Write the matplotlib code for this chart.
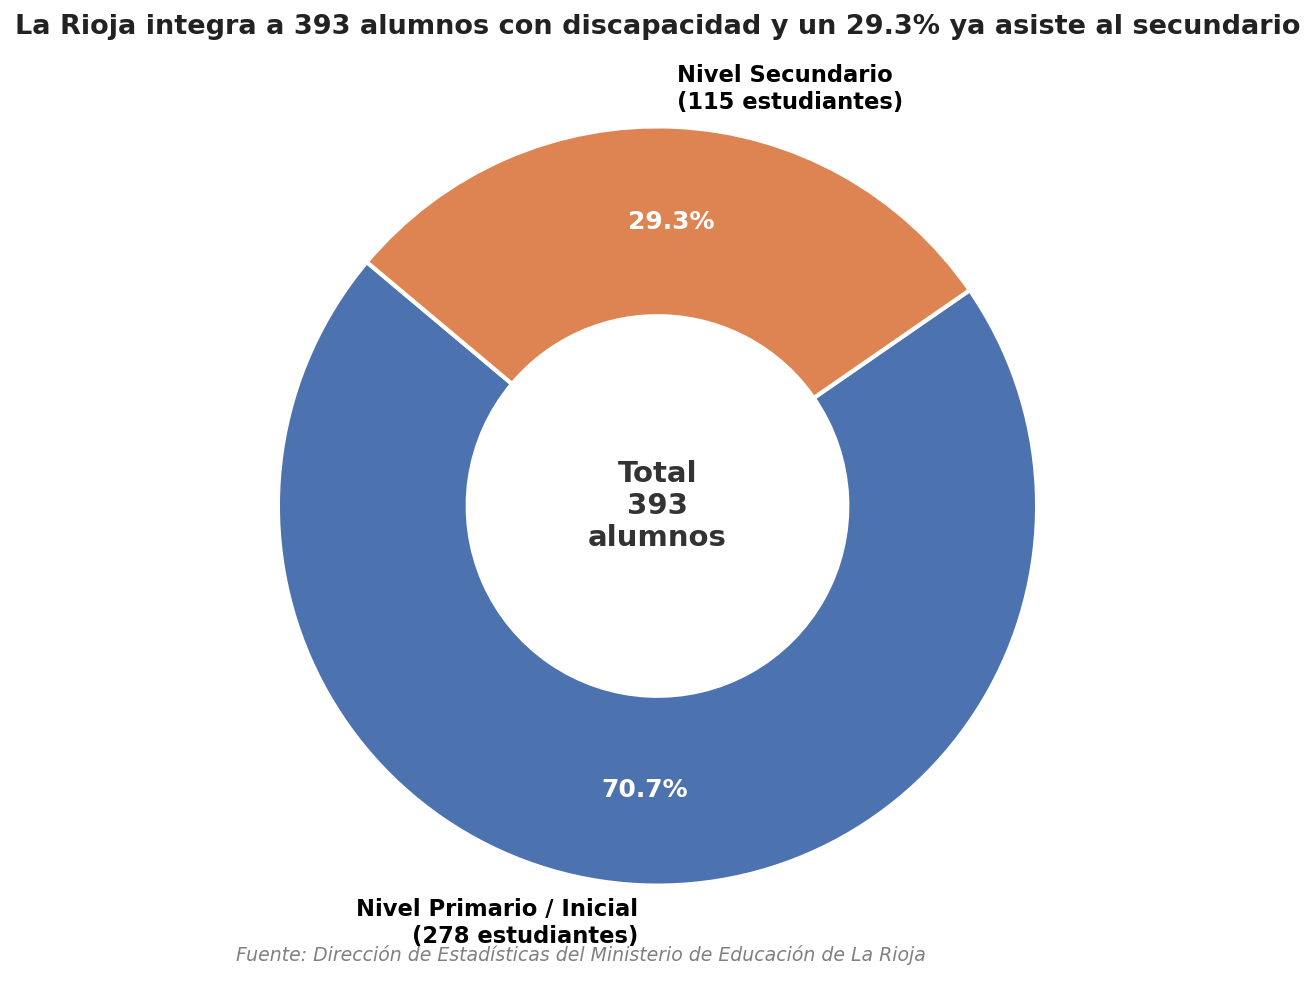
import matplotlib.pyplot as plt

# datos
niveles = ["Nivel Primario / Inicial", "Nivel Secundario"]
alumnos = [278, 115]
colores = ["#4c72b0", "#dd8452"]
total = sum(alumnos)

etiquetas = [f"{n}\n({v} estudiantes)" for n, v in zip(niveles, alumnos)]

fig = plt.figure(figsize=(13.15, 9.81), dpi=100)
ax = fig.add_axes([0, 0.5 / 981, 1, 949 / 981])

wedges, texts, autotexts = ax.pie(
    alumnos,
    labels=etiquetas,
    colors=colores,
    startangle=140,
    autopct="%1.1f%%",
    pctdistance=0.75,
    labeldistance=1.1,
    wedgeprops=dict(width=0.5, edgecolor="white", linewidth=3),
    textprops=dict(fontsize=16.3, fontweight="bold"),
)
for t in autotexts:
    t.set_color("white")
    t.set_fontsize(18)
ax.set_aspect("equal")

ax.text(0, 0, f"Total\n{total}\nalumnos", ha="center", va="center",
        fontsize=21, fontweight="bold", color="#333333")

fig.text(0.5, 1 - 27 / 981, "La Rioja integra a 393 alumnos con discapacidad y un 29.3% ya asiste al secundario",
         ha="center", va="center", fontsize=19.5, fontweight="bold", color="#222222")
fig.text(581 / 1315, 1 - 955 / 981, "Fuente: Dirección de Estadísticas del Ministerio de Educación de La Rioja",
         ha="center", va="center", fontsize=13.6, style="italic", color="gray")

fig.savefig("out.png", dpi=100)
